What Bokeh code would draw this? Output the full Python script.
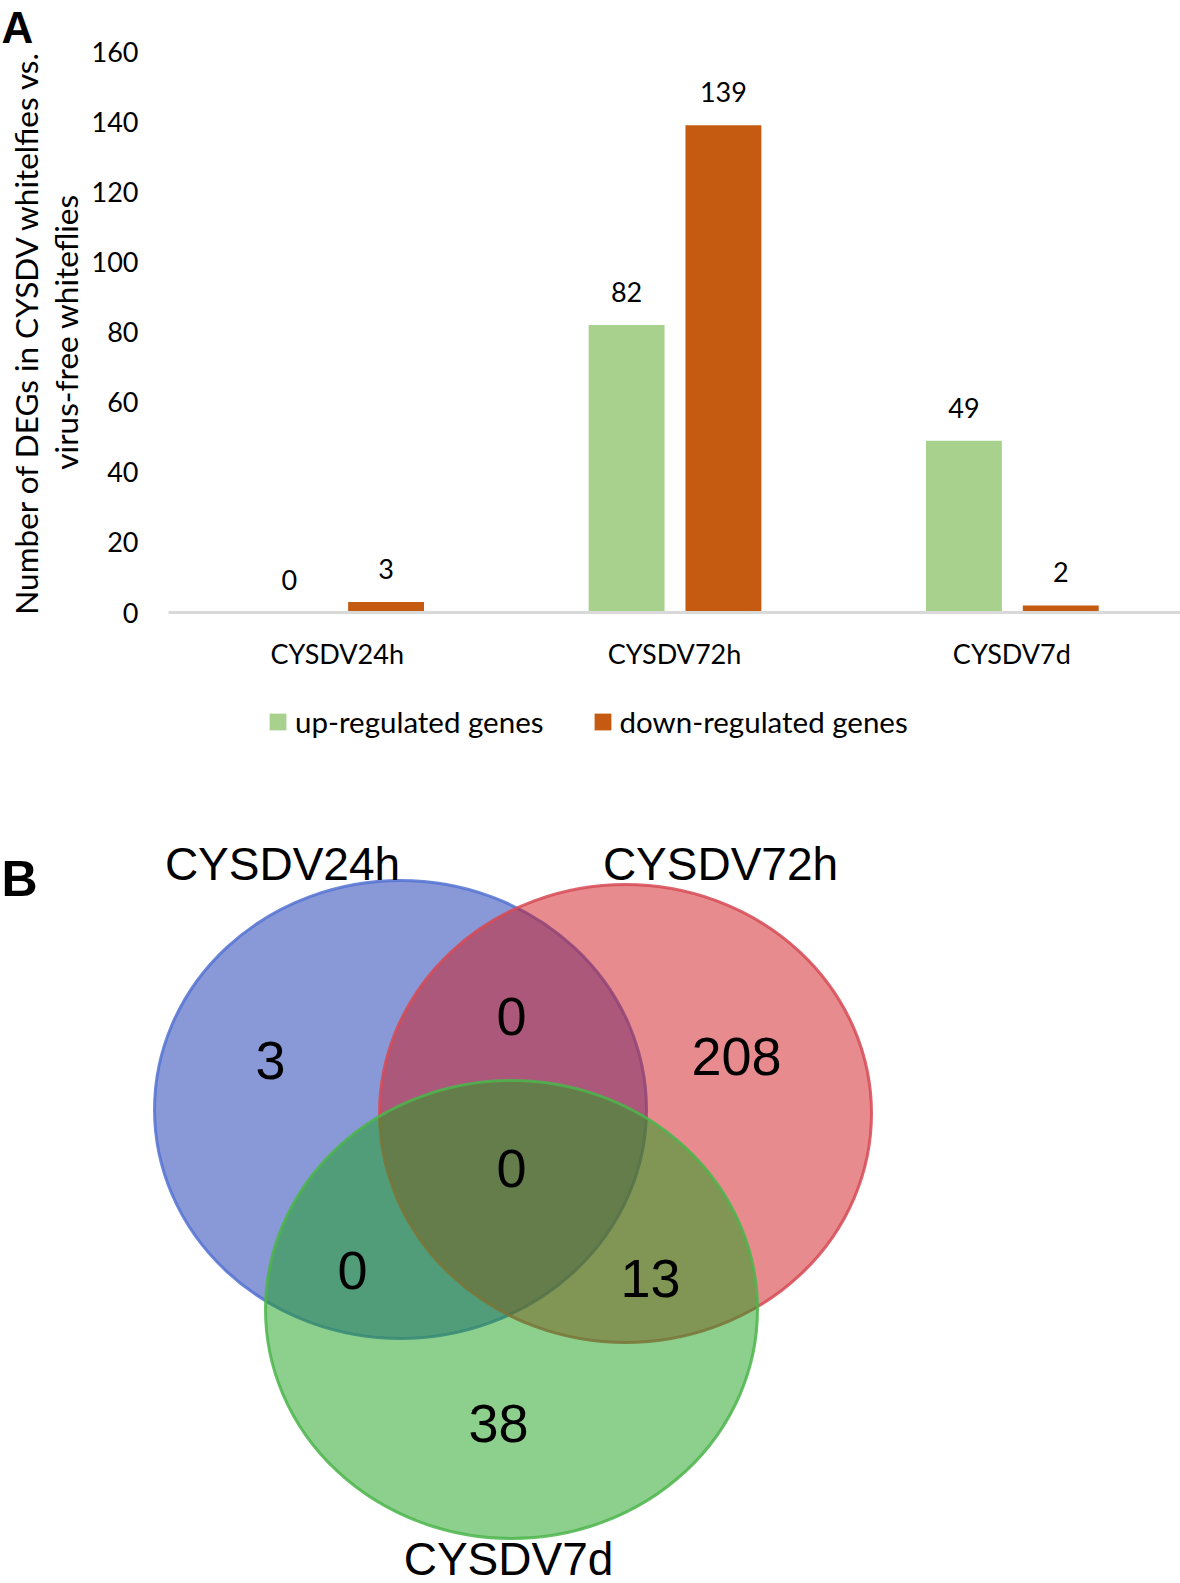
import numpy as np
from bokeh.plotting import figure
from bokeh.models import (Range1d, FactorRange, ColumnDataSource, Legend, LegendItem,
                          FixedTicker)
from bokeh.transform import dodge
from bokeh.layouts import column
from bokeh.embed import file_html
from bokeh.resources import INLINE
from bokeh.core.properties import value

# ---------------- data ----------------
categories = ["CYSDV24h", "CYSDV72h", "CYSDV7d"]
up_regulated = [0, 82, 49]
down_regulated = [3, 139, 2]
y_ticks = [0, 20, 40, 60, 80, 100, 120, 140, 160]
series_names = ["up-regulated genes", "down-regulated genes"]
y_title = "Number of DEGs in CYSDV whitelfies vs.\nvirus-free whiteflies"

venn_sets = ["CYSDV24h", "CYSDV72h", "CYSDV7d"]
# regions: only24h, only72h, only7d, 24h&72h, 24h&7d, 72h&7d, all three
venn_counts = [3, 208, 38, 0, 0, 13, 0]

# ---------------- layout (page pixel positions of the Venn) ----------------
venn_cx = [400, 625, 511]
venn_cy = [1109, 1113, 1309]
venn_w = 492
venn_h = 458
venn_fill = ["#1331ad", "#cf171d", "#1ba11b"]
venn_line = ["#5472d2", "#d64a55", "#4cb54c"]
venn_label_x = [282, 720, 508]
venn_label_y = [863, 863, 1558]
count_x = [270, 736, 498, 511, 352, 650, 511]
count_y = [1060, 1056, 1423, 1016, 1270, 1278, 1168]

FONT = "Lato"
GREEN = "#a9d18e"
ORANGE = "#c55a11"

# ---------------- panel A: bar chart ----------------
p1 = figure(x_range=FactorRange(*categories), y_range=Range1d(0, 160),
            width=1180, height=680, output_backend="svg", toolbar_location=None,
            min_border_left=168, min_border_right=0, min_border_top=51,
            min_border_bottom=68)
p1.frame_align = False
p1.outline_line_color = None
p1.xgrid.grid_line_color = None
p1.ygrid.grid_line_color = None
p1.background_fill_color = None

p1.title.text = "A"
p1.title.align = "left"
p1.title.offset = -167
p1.title.standoff = 0
p1.title.text_font = "Liberation Sans"
p1.title.text_font_style = "bold"
p1.title.text_font_size = "44px"
p1.title.text_color = "black"

src = ColumnDataSource(dict(cat=categories, up=up_regulated, down=down_regulated,
                            up_lbl=[str(v) for v in up_regulated],
                            down_lbl=[str(v) for v in down_regulated]))

OFF_UP, OFF_DOWN, BAR_W = -0.142, 0.145, 0.225
p1.vbar(x=dodge("cat", OFF_UP, range=p1.x_range), top="up", width=BAR_W,
        source=src, fill_color=GREEN, line_color=None)
p1.vbar(x=dodge("cat", OFF_DOWN, range=p1.x_range), top="down", width=BAR_W,
        source=src, fill_color=ORANGE, line_color=None)

for xoff, col in ((OFF_UP, "up"), (OFF_DOWN, "down")):
    p1.text(x=dodge("cat", xoff, range=p1.x_range), y=col, text=col + "_lbl", source=src,
            text_align="center", text_baseline="alphabetic", y_offset=-33,
            text_font=value(FONT), text_font_size="27px", text_color="black")

yax = p1.yaxis[0]
yax.ticker = FixedTicker(ticks=y_ticks)
yax.axis_line_color = None
yax.major_tick_line_color = None
yax.minor_tick_line_color = None
yax.major_label_text_font = FONT
yax.major_label_text_font_size = "27px"
yax.major_label_text_color = "black"
yax.major_label_standoff = 24
yax.axis_label = y_title
yax.axis_label_text_font = FONT
yax.axis_label_text_font_size = "31.5px"
yax.axis_label_text_font_style = "normal"
yax.axis_label_text_color = "black"
yax.axis_label_text_line_height = 1.05
yax.axis_label_standoff = 4

xax = p1.xaxis[0]
xax.axis_line_color = "#d9d9d9"
xax.axis_line_width = 3
xax.major_tick_line_color = None
xax.minor_tick_line_color = None
xax.major_label_text_font = FONT
xax.major_label_text_font_size = "27px"
xax.major_label_text_color = "black"
xax.major_label_standoff = 18

# ---------------- legend strip (same series, drawn off-view so only the key shows) ----
p_leg = figure(x_range=p1.x_range, y_range=Range1d(1000, 1001),
               width=1180, height=110, output_backend="svg", toolbar_location=None,
               min_border=0, x_axis_location=None, y_axis_location=None)
p_leg.frame_align = False
p_leg.outline_line_color = None
p_leg.xgrid.grid_line_color = None
p_leg.ygrid.grid_line_color = None
l_up = p_leg.vbar(x=dodge("cat", OFF_UP, range=p1.x_range), top="up", width=BAR_W,
                  source=src, fill_color=GREEN, line_color=None)
l_down = p_leg.vbar(x=dodge("cat", OFF_DOWN, range=p1.x_range), top="down", width=BAR_W,
                    source=src, fill_color=ORANGE, line_color=None)
legend = Legend(items=[LegendItem(label=series_names[0], renderers=[l_up]),
                       LegendItem(label=series_names[1], renderers=[l_down])],
                orientation="horizontal", location=(267, 51), margin=0,
                glyph_width=21, glyph_height=21, label_standoff=7, spacing=48,
                padding=0, border_line_color=None, background_fill_alpha=0,
                label_text_font=FONT, label_text_font_size="29.5px",
                label_text_color="black")
p_leg.add_layout(legend)

# ---------------- panel B: Venn ----------------
p2 = figure(x_range=Range1d(0, 1180), y_range=Range1d(1583, 790),
            width=1180, height=793, output_backend="svg", toolbar_location=None,
            min_border=0, x_axis_location=None, y_axis_location=None)
p2.frame_align = False
p2.outline_line_color = None
p2.xgrid.grid_line_color = None
p2.ygrid.grid_line_color = None

vsrc = ColumnDataSource(dict(x=venn_cx, y=venn_cy, fill=venn_fill, line=venn_line))
p2.ellipse(x="x", y="y", width=venn_w, height=venn_h, source=vsrc,
           fill_color="fill", fill_alpha=0.5, line_color="line", line_width=3,
           line_alpha=0.85)

p2.text(x=count_x, y=count_y, text=[str(c) for c in venn_counts],
        text_align="center", text_baseline="middle",
        text_font=value("Liberation Sans"), text_font_size="54px", text_color="black")
p2.text(x=venn_label_x, y=venn_label_y, text=venn_sets,
        text_align="center", text_baseline="middle",
        text_font=value("Liberation Sans"), text_font_size="46px", text_color="black")
p2.text(x=[1], y=[878], text=["B"], text_align="left", text_baseline="alphabetic",
        text_font=value("Liberation Sans"), text_font_style="bold",
        text_font_size="50px", text_color="black")

layout = column(p1, p_leg, p2)
open("out.html", "w").write(file_html(layout, INLINE))
